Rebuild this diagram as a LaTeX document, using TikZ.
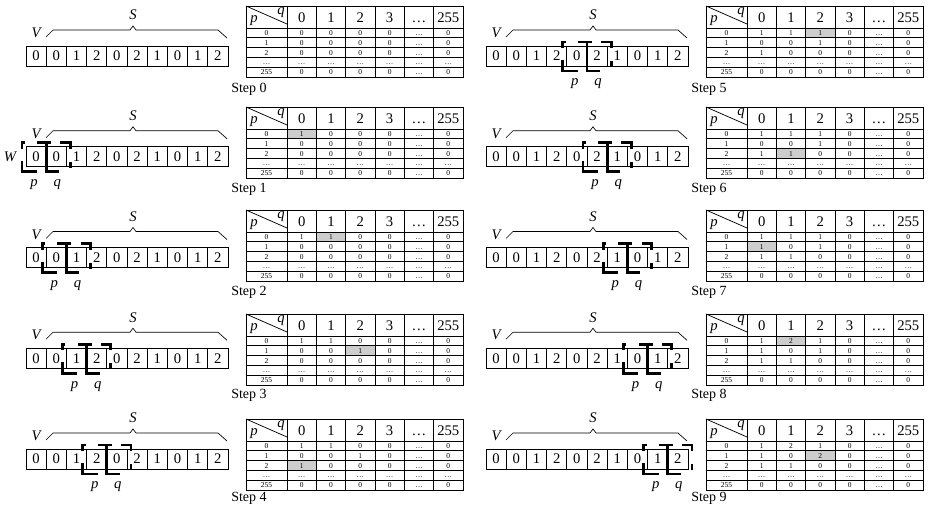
\documentclass[tikz,border=0pt]{standalone}
\usepackage{fontspec}
\setmainfont{Liberation Serif}
\definecolor{hlgray}{RGB}{205,205,205}
\tikzset{
  cellbox/.style={draw, line width=0.6pt, minimum width=15.15pt, minimum height=15pt, inner sep=0pt, font=\fontsize{11}{11}\selectfont},
  bracestyle/.style={draw, line width=0.5pt},
  lab/.style={inner sep=0pt, font=\fontsize{11}{11}\selectfont\itshape},
  tline/.style={line width=0.55pt},
  hdtxt/.style={inner sep=0pt, text height=7.3pt, text depth=0pt, font=\fontsize{11}{11}\selectfont},
  bodytxt/.style={inner sep=0pt, text height=3.8pt, text depth=0pt, font=\fontsize{5.6}{5.6}\selectfont},
  steplab/.style={inner sep=0pt, anchor=west, font=\fontsize{10.5}{10.5}\selectfont},
  win/.style={line width=2pt},
}
% #1 step, #2 array left, #3 array centre y, #4 table left, #5 table top, #6 label y, #7 data, #8 hl row, #9 hl col
\newcommand\stepdiagram[9]{%
  \foreach \v [count=\i from 0] in {0,0,1,2,0,2,1,0,1,2}
    \node[cellbox] (a#1-\i) at ({#2+20.2*\i+10.1},#3) {\v};
  \draw[bracestyle] ({#2+20},{#3-19}) -- ({#2+27},{#3-26}) -- ({#2+104},{#3-26}) -- ({#2+107},{#3-30}) -- ({#2+110},{#3-26}) -- ({#2+192},{#3-26}) -- ({#2+201},{#3-18});
  \node[lab] (S#1) at ({#2+107},{#3-41}) {S};
  \node[lab] (V#1) at ({#2+10},{#3-23}) {V};
  % table
  \ifnum#8>-1
    \fill[hlgray] ({#4+41+29.33*#9},{#5+22+9.8*#8}) rectangle ({#4+41+29.33*(#9+1)},{#5+22+9.8*(#8+1)});
  \fi
  \draw[tline] (#4,#5) rectangle ({#4+217},{#5+71});
  \foreach \j in {0,...,5}
    \draw[tline] ({#4+41+29.33*\j},#5) -- ({#4+41+29.33*\j},{#5+71});
  \foreach \r in {0,...,4}
    \draw[tline] (#4,{#5+22+9.8*\r}) -- ({#4+217},{#5+22+9.8*\r});
  \draw[tline] (#4,#5) -- ({#4+41},{#5+18});
  \node[lab] (hp#1) at ({#4+8},{#5+15}) {p};
  \node[lab] (hq#1) at ({#4+35},{#5+7}) {q};
  \foreach \h [count=\j from 0] in {0,1,2,3,\ldots,255}
    \node[hdtxt] (h#1-\j) at ({#4+41+29.33*(\j+0.5)},{#5+12}) {\h};
  \foreach \h [count=\r from 0] in {0,1,2,\ldots,255}
    \node[bodytxt] (r#1-\r) at ({#4+20.5},{#5+22+9.8*(\r+0.5)}) {\h};
  \foreach \v [count=\n from 0] in {#7} {
    \pgfmathtruncatemacro\rr{div(\n,4)}
    \pgfmathtruncatemacro\cc{mod(\n,4)}
    \node[bodytxt] (t#1-\rr-\cc) at ({#4+41+29.33*(\cc+0.5)},{#5+22+9.8*(\rr+0.5)}) {\v};
  }
  \foreach \r in {0,1,2,4} {
    \node[bodytxt] (td#1-\r) at ({#4+41+29.33*4.5},{#5+22+9.8*(\r+0.5)}) {\ldots};
    \node[bodytxt] (tz#1-\r) at ({#4+41+29.33*5.5},{#5+22+9.8*(\r+0.5)}) {0};
  }
  \foreach \c in {0,...,5}
    \node[bodytxt] (tr#1-\c) at ({#4+41+29.33*(\c+0.5)},{#5+22+9.8*3.5}) {\ldots};
  \foreach \c in {0,...,3}
    \node[bodytxt] (tl#1-\c) at ({#4+41+29.33*(\c+0.5)},{#5+22+9.8*4.5}) {0};
  \node[steplab] (st#1) at ({#4-15},#6) {Step #1};
  % windows
  \ifnum#1>0
    \pgfmathsetmacro\pL{#2+20.2*(#1-1)-4}
    \pgfmathsetmacro\wM{#2+20.2*#1}
    \pgfmathsetmacro\qR{#2+20.2*(#1+1)+4}
    \pgfmathsetmacro\wT{#3-14}
    \pgfmathsetmacro\wB{#3+15}
    \draw[win] ({\pL+3},\wT) -- (\pL,\wT) -- (\pL,{\wT+6});
    \draw[win] (\pL,{\wB-11}) -- (\pL,\wB) -- ({\pL+15},\wB);
    \draw[win] ({\wM-9},\wT) -- ({\wM+5},\wT);
    \draw[win] (\wM,\wT) -- (\wM,\wB) -- ({\wM+13},\wB);
    \draw[win] ({\qR-10},\wT) -- (\qR,\wT) -- (\qR,{\wT+6});
    \draw[win] (\qR,{\wB-10}) -- (\qR,{\wB-4});
    \node[lab] (p#1) at ({#2+20.2*(#1-0.5)-2},{#3+28}) {p};
    \node[lab] (q#1) at ({#2+20.2*(#1+0.5)+1},{#3+28}) {q};
  \fi
}
\begin{document}
\begin{tikzpicture}[x=0.75pt,y=-0.75pt]
\useasboundingbox[fill=white] (0,0) rectangle (929,507);
\stepdiagram{0}{26}{56}{246}{6}{89}{0,0,0,0,0,0,0,0,0,0,0,0}{-1}{0}
\stepdiagram{1}{26}{156.75}{246}{107}{189}{1,0,0,0,0,0,0,0,0,0,0,0}{0}{0}
\stepdiagram{2}{26}{257.5}{246}{210}{292}{1,1,0,0,0,0,0,0,0,0,0,0}{0}{1}
\stepdiagram{3}{26}{358.25}{246}{314}{395}{1,1,0,0,0,0,1,0,0,0,0,0}{1}{2}
\stepdiagram{4}{26}{459}{246}{419}{498}{1,1,0,0,0,0,1,0,1,0,0,0}{2}{0}
\stepdiagram{5}{486}{56}{706}{6}{89}{1,1,1,0,0,0,1,0,1,0,0,0}{0}{2}
\stepdiagram{6}{486}{156.75}{706}{107}{189}{1,1,1,0,0,0,1,0,1,1,0,0}{2}{1}
\stepdiagram{7}{486}{257.5}{706}{210}{292}{1,1,1,0,1,0,1,0,1,1,0,0}{1}{0}
\stepdiagram{8}{486}{358.25}{706}{314}{395}{1,2,1,0,1,0,1,0,1,1,0,0}{0}{1}
\stepdiagram{9}{486}{459}{706}{419}{498}{1,2,1,0,1,0,2,0,1,1,0,0}{1}{2}
\node[lab] (W1) at (10,157) {W};
\end{tikzpicture}
\end{document}
